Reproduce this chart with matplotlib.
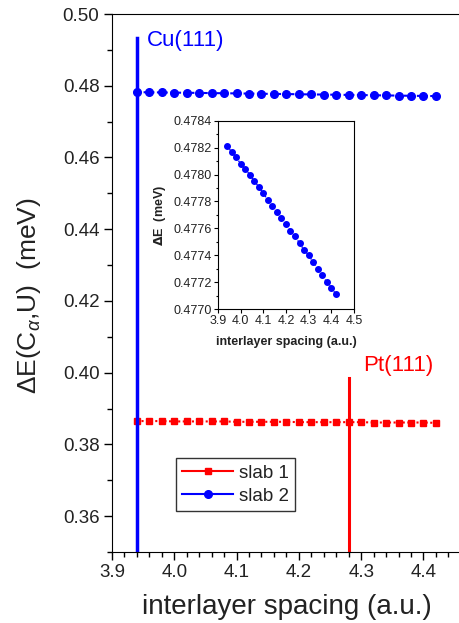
import matplotlib
matplotlib.use("Agg")
import matplotlib.pyplot as plt
from matplotlib.ticker import MultipleLocator

plt.rcParams['font.family'] = ['Liberation Sans', 'DejaVu Sans']
plt.rcParams['mathtext.fontset'] = 'custom'
plt.rcParams['mathtext.rm'] = 'Liberation Sans'
plt.rcParams['mathtext.it'] = 'Liberation Sans:italic'

# interlayer spacing (a.u.)
spacing = [3.94, 3.96, 3.98, 4.00, 4.02, 4.04, 4.06, 4.08, 4.10, 4.12, 4.14, 4.16, 4.18,
           4.20, 4.22, 4.24, 4.26, 4.28, 4.30, 4.32, 4.34, 4.36, 4.38, 4.40, 4.42]

# slab 1 (Pt(111))
slab1 = [0.3865, 0.3865, 0.3865, 0.3864, 0.3864, 0.3864, 0.3864, 0.3864, 0.3863, 0.3863,
         0.3863, 0.3863, 0.3863, 0.3862, 0.3862, 0.3862, 0.3862, 0.3862, 0.3862, 0.3861,
         0.3861, 0.3861, 0.3861, 0.3861, 0.3860]

# slab 2 (Cu(111))
slab2 = [0.47821, 0.47817, 0.47813, 0.47808, 0.47804, 0.47800, 0.47795, 0.47791, 0.47786,
         0.47781, 0.47777, 0.47772, 0.47768, 0.47763, 0.47758, 0.47754, 0.47749, 0.47744,
         0.47740, 0.47735, 0.47730, 0.47725, 0.47720, 0.47716, 0.47711]

# equilibrium spacing markers
cu_x, cu_top = 3.94, 0.4933
pt_x, pt_top = 4.28, 0.3986

txt = '#222222'

fig = plt.figure(figsize=(4.59, 6.23), dpi=100)
ax = fig.add_axes([0.244, 0.114, 0.76, 0.8635])

ax.plot(spacing, slab1, color='red', marker='s', markersize=5, linestyle=(0, (1, 1.2)),
        linewidth=1.5, label='slab 1')
ax.plot(spacing, slab2, color='blue', marker='o', markersize=5.5, linestyle=(0, (2, 1.2)),
        linewidth=1.5, label='slab 2')

ax.plot([cu_x, cu_x], [0.35, cu_top], color='blue', linewidth=2.5)
ax.plot([pt_x, pt_x], [0.35, pt_top], color='red', linewidth=2.2)
ax.text(3.956, 0.4911, 'Cu(111)', color='blue', fontsize=16, va='baseline')
ax.text(4.303, 0.4006, 'Pt(111)', color='red', fontsize=16, va='baseline')

ax.set_xlim(3.9, 4.46)
ax.set_ylim(0.35, 0.50)
ax.spines['right'].set_visible(False)
ax.xaxis.set_major_locator(MultipleLocator(0.1))
ax.xaxis.set_minor_locator(MultipleLocator(0.02))
ax.yaxis.set_major_locator(MultipleLocator(0.02))
ax.yaxis.set_minor_locator(MultipleLocator(0.01))
ax.set_xticks([3.9, 4.0, 4.1, 4.2, 4.3, 4.4])
ax.set_xticklabels(['3.9', '4.0', '4.1', '4.2', '4.3', '4.4'])
ax.set_yticks([0.36, 0.38, 0.40, 0.42, 0.44, 0.46, 0.48, 0.50])
ax.set_yticklabels(['0.36', '0.38', '0.40', '0.42', '0.44', '0.46', '0.48', '0.50'])
ax.tick_params(which='major', direction='out', length=6, width=1, labelsize=13.5,
               labelcolor=txt, pad=3)
ax.tick_params(which='minor', direction='out', length=3.5, width=1)
ax.set_xlabel('interlayer spacing (a.u.)', fontsize=20, color=txt, labelpad=9)
ax.set_ylabel(r'$\Delta$E(C$_{\alpha}$,U)  (meV)', fontsize=19, color=txt)
ax.yaxis.set_label_coords(-0.197, 0.476)

leg = ax.legend(loc='lower left', bbox_to_anchor=(0.183, 0.076), borderaxespad=0,
                fontsize=13.5, fancybox=False, edgecolor='#333333', handlelength=2.7,
                handletextpad=0.3, borderpad=0.35, labelspacing=0.3, framealpha=1)
leg.get_frame().set_linewidth(1.0)
for line in leg.get_lines():
    line.set_linestyle('-')
for t in leg.get_texts():
    t.set_color(txt)

# inset
ins = fig.add_axes([0.475, 0.504, 0.296, 0.302])
ins.plot(spacing, slab2, color='blue', marker='o', markersize=4, linestyle=':', linewidth=1)
ins.set_xlim(3.9, 4.5)
ins.set_ylim(0.4770, 0.4784)
ins.set_xticks([3.9, 4.0, 4.1, 4.2, 4.3, 4.4, 4.5])
ins.set_xticklabels(['3.9', '4.0', '4.1', '4.2', '4.3', '4.4', '4.5'])
ins.set_yticks([0.4770, 0.4772, 0.4774, 0.4776, 0.4778, 0.4780, 0.4782, 0.4784])
ins.set_yticklabels(['0.4770', '0.4772', '0.4774', '0.4776', '0.4778', '0.4780', '0.4782', '0.4784'])
ins.yaxis.set_minor_locator(MultipleLocator(0.0001))
ins.tick_params(which='major', direction='out', length=3, width=0.8, labelsize=9,
                labelcolor=txt, pad=1.5)
ins.tick_params(which='minor', direction='out', length=1.8, width=0.8)
ins.set_xlabel('interlayer spacing (a.u.)', fontsize=9, fontweight='bold', color=txt,
               labelpad=6)
ins.set_ylabel(r'$\mathbf{\Delta}$E  (meV)', fontsize=9, fontweight='bold', color=txt,
               labelpad=4)

fig.savefig('out.png', dpi=100)
